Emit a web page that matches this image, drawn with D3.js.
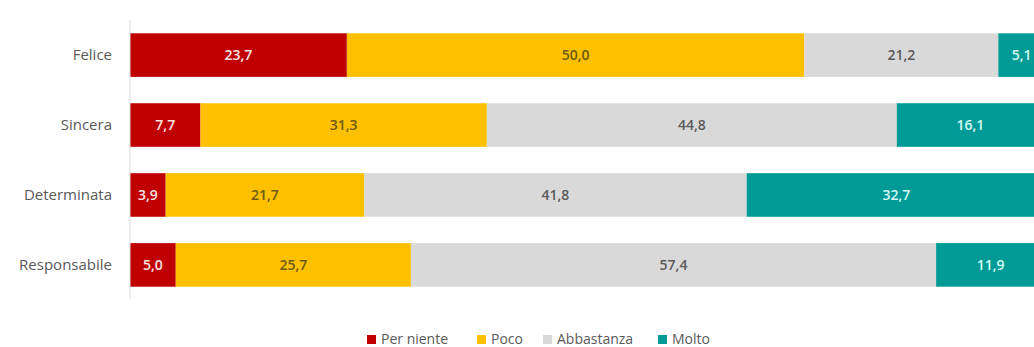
<!DOCTYPE html>
<html>
<head>
<meta charset="utf-8">
<script src="https://cdn.jsdelivr.net/npm/d3@7"></script>
<style>
  html, body { margin: 0; padding: 0; background: #fff; overflow: hidden; }
  svg { display: block; font-family: "Open Sans", "Noto Sans", sans-serif; }
</style>
</head>
<body>
<svg id="chart" width="1034" height="347"></svg>
<script>
// Categories (top to bottom) and the four answer levels
const categories = ["Felice", "Sincera", "Determinata", "Responsabile"];
const seriesNames = ["Per niente", "Poco", "Abbastanza", "Molto"];

// Percentages for each level, in category order
const perNiente  = [23.7, 7.7, 3.9, 5.0];
const poco       = [50.0, 31.3, 21.7, 25.7];
const abbastanza = [21.2, 44.8, 41.8, 57.4];
const molto      = [5.1, 16.1, 32.7, 11.9];

const seriesValues = [perNiente, poco, abbastanza, molto];
const fills = ["#C00000", "#FFC000", "#D9D9D9", "#009B96"];
const labelColors = ["#FBE3E3", "#6E5A10", "#5A5A5A", "#D2FAF6"];

const svg = d3.select("#chart");
const margin = { left: 130, top: 20, bottom: 47 };
const width = 1034, height = 347;

// Table of rows for stacking
const rows = categories.map((c, i) => {
  const r = { category: c };
  seriesNames.forEach((s, j) => { r[s] = seriesValues[j][i]; });
  return r;
});
const stacked = d3.stack().keys(seriesNames)(rows);

const x = d3.scaleLinear().domain([0, 100]).range([margin.left, 1045]);
const y = d3.scaleBand().domain(categories)
  .range([margin.top, height - margin.bottom])
  .paddingInner(0.377).paddingOuter(0.19);

// Bars
const layers = svg.append("g").selectAll("g")
  .data(stacked).join("g")
  .attr("fill", (d, i) => fills[i]);

layers.selectAll("rect")
  .data(d => d.map(v => ({ v, cat: v.data.category })))
  .join("rect")
  .attr("x", d => x(d.v[0]))
  .attr("y", d => y(d.cat))
  .attr("width", d => x(d.v[1]) - x(d.v[0]))
  .attr("height", y.bandwidth());

// Value labels inside each segment
const fmt = v => d3.format(".1f")(v).replace(".", ",");
svg.append("g").selectAll("g")
  .data(stacked).join("g")
  .attr("fill", (d, i) => labelColors[i])
  .selectAll("text")
  .data(d => d.map(v => ({ v, cat: v.data.category, key: d.key })))
  .join("text")
  .attr("x", d => (x(d.v[0]) + x(d.v[1])) / 2)
  .attr("y", d => y(d.cat) + y.bandwidth() / 2)
  .attr("dy", "0.35em")
  .attr("text-anchor", "middle")
  .attr("font-size", 14)
  .attr("font-weight", 600)
  .text(d => fmt(d.v.data[d.key]));

// Vertical category axis
const axis = svg.append("g")
  .attr("transform", `translate(${margin.left},0)`)
  .call(d3.axisLeft(y).tickSize(0).tickPadding(18));
axis.select(".domain")
  .attr("stroke", "#D9D9D9")
  .attr("d", `M0,${margin.top}V298`);
axis.selectAll(".tick text")
  .attr("fill", "#595959")
  .attr("font-size", 15)
  .attr("font-family", "\"Open Sans\", sans-serif");

// Legend
const legendX = [367, 477, 543, 658];
const legend = svg.append("g").selectAll("g")
  .data(seriesNames).join("g")
  .attr("transform", (d, i) => `translate(${legendX[i]},339)`);
legend.append("rect")
  .attr("x", 0).attr("y", -4)
  .attr("width", 9).attr("height", 9)
  .attr("fill", (d, i) => fills[i]);
legend.append("text")
  .attr("x", 14).attr("y", 0)
  .attr("dy", "0.35em")
  .attr("font-size", 14)
  .attr("fill", "#595959")
  .text(d => d);
</script>
</body>
</html>
